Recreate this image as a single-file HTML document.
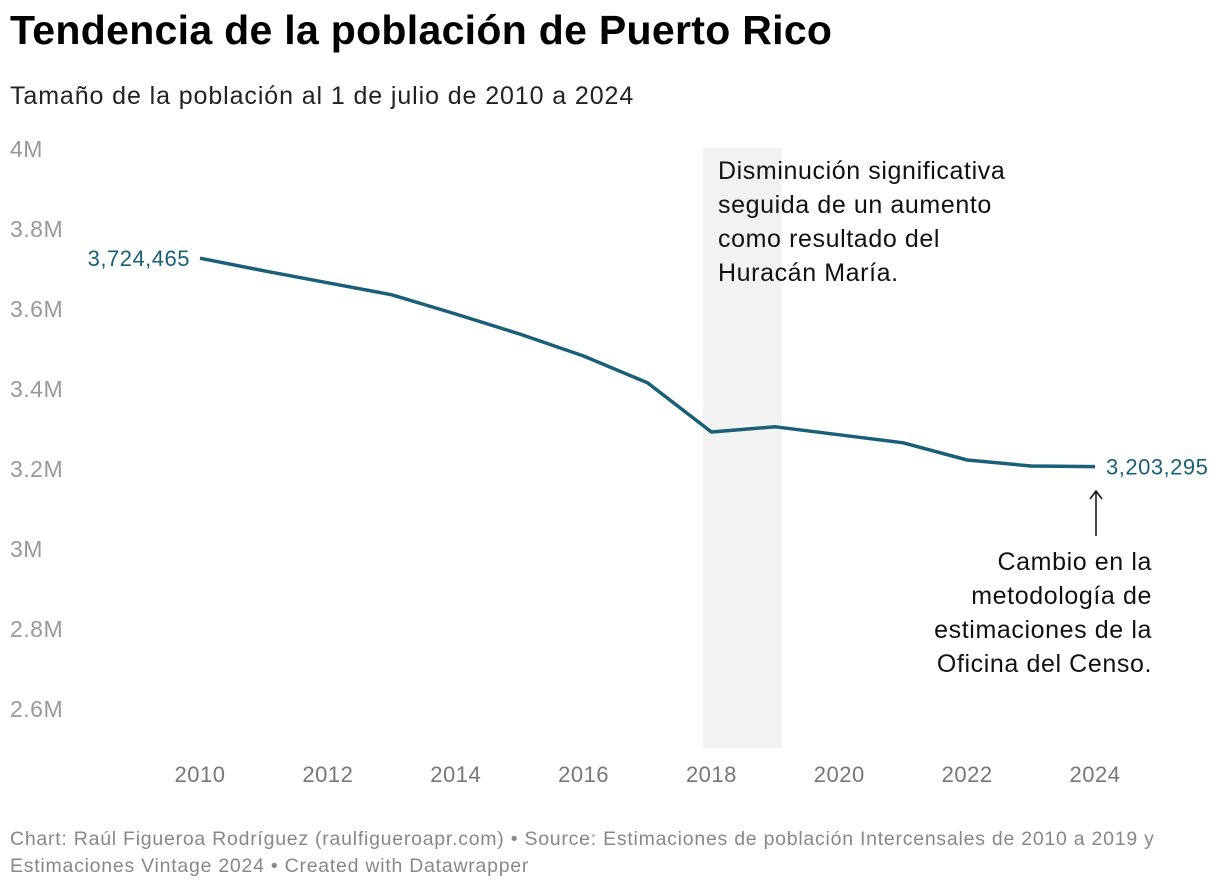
<!DOCTYPE html>
<html><head><meta charset="utf-8"><style>
body{margin:0;background:#fff;font-family:"Liberation Sans",sans-serif;width:1220px;height:890px;overflow:hidden;position:relative}
h1{position:absolute;left:10px;top:7px;margin:0;font-size:41px;font-weight:bold;color:#000;letter-spacing:0.3px}
.sub{position:absolute;left:10px;top:82px;font-size:25px;color:#222;letter-spacing:0.9px}
.foot{position:absolute;left:10px;top:826px;font-size:19.5px;color:#888;line-height:27px;letter-spacing:0.75px}
svg{position:absolute;left:0;top:0}
</style></head><body>
<h1>Tendencia de la población de Puerto Rico</h1>
<div class="sub">Tamaño de la población al 1 de julio de 2010 a 2024</div>
<svg id="c" width="1220" height="890"></svg>
<div class="foot">Chart: Raúl Figueroa Rodríguez (raulfigueroapr.com) • Source: Estimaciones de población Intercensales de 2010 a 2019 y<br>Estimaciones Vintage 2024 • Created with Datawrapper</div>
<script>
const years=[2010,2011,2012,2013,2014,2015,2016,2017,2018,2019,2020,2021,2022,2023,2024];
const population=[3724465,3693000,3663000,3633000,3585000,3535000,3480000,3413000,3290000,3303000,3283000,3263000,3220000,3205000,3203295];
const yTicks=[2600000,2800000,3000000,3200000,3400000,3600000,3800000,4000000];
const yTickLabels=["2.6M","2.8M","3M","3.2M","3.4M","3.6M","3.8M","4M"];
const xTicks=[2010,2012,2014,2016,2018,2020,2022,2024];
const ns="http://www.w3.org/2000/svg",svg=document.getElementById('c');
const x=v=>200+(v-2010)*(1095-200)/14;
const y=v=>148+(4000000-v)/200000*80;
function el(t,a,txt){const e=document.createElementNS(ns,t);for(const k in a)e.setAttribute(k,a[k]);if(txt!=null)e.textContent=txt;svg.appendChild(e);return e;}
const band=el('rect',{x:x(2017.87),y:148,width:x(2019.1)-x(2017.87),height:600,fill:'#f2f2f2'});


yTicks.forEach((t,i)=>{const e=el('text',{x:10,y:y(t)+9,'font-size':23,fill:'#999','letter-spacing':0.5},yTickLabels[i]);

});
xTicks.forEach(t=>{const e=el('text',{x:x(t),y:782,'font-size':22,fill:'#777','text-anchor':'middle','letter-spacing':0.5},t);

});
const line=el('path',{d:years.map((yr,i)=>(i?'L':'M')+x(yr)+','+y(population[i])).join(''),fill:'none',stroke:'#1a5f78','stroke-width':3.5,'stroke-linejoin':'round'});


const fmt=v=>v.toLocaleString('en-US');
const l1=el('text',{x:x(2010)-10,y:y(population[0])+8,'font-size':22,fill:'#1a5f78','text-anchor':'end','letter-spacing':0.5},fmt(population[0]));


const l2=el('text',{x:x(2024)+11,y:y(population[14])+8,'font-size':22,fill:'#1a5f78','letter-spacing':0.5},fmt(population[14]));


const a1=["Disminución significativa","seguida de un aumento","como resultado del","Huracán María."];
a1.forEach((s,i)=>{const e=el('text',{x:718,y:179+i*34,'font-size':25,fill:'#111','letter-spacing':0.6},s);

});
const a2=["Cambio en la","metodología de","estimaciones de la","Oficina del Censo."];
a2.forEach((s,i)=>{const e=el('text',{x:1152,y:570+i*34,'font-size':25,fill:'#111','text-anchor':'end','letter-spacing':0.6},s);

});
const ar=el('path',{d:'M1096,536L1096,492M1090,499L1096,491L1102,499',fill:'none',stroke:'#111','stroke-width':1.5});


</script>
</body></html>
